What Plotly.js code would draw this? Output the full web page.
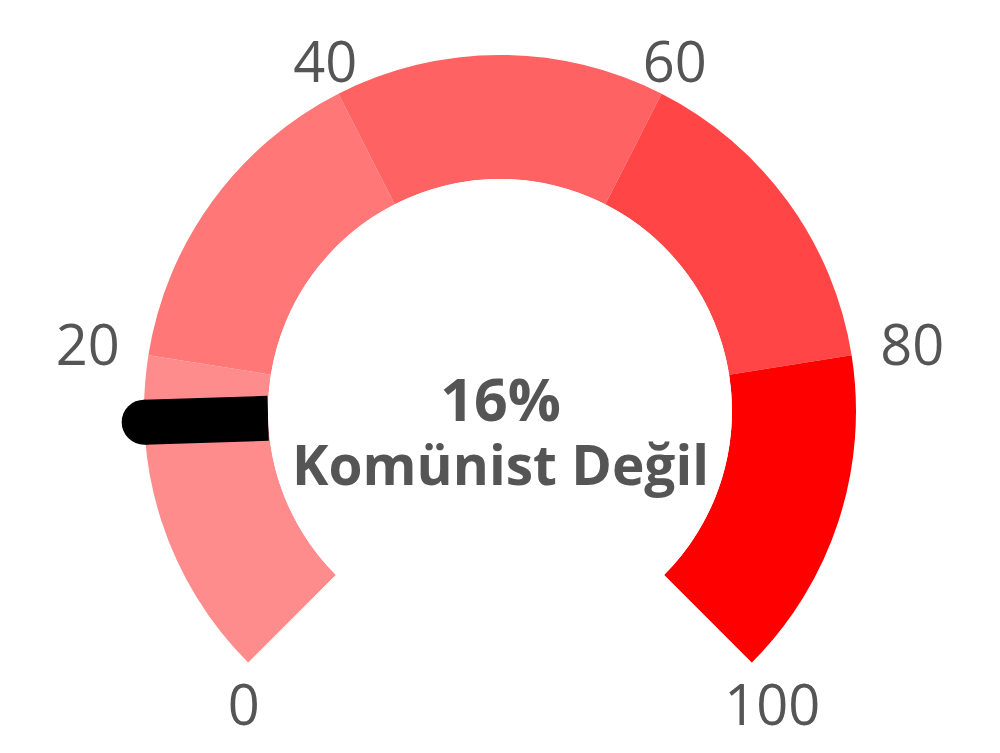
<!DOCTYPE html>
<html>
<head>
<meta charset="utf-8">
<script src="https://cdn.plot.ly/plotly-3.0.1.min.js"></script>
<style>
  html, body { margin: 0; padding: 0; background: #fff; }
  #chart { width: 1000px; height: 753px; }
</style>
</head>
<body>
<div id="chart"></div>
<script>
// gauge bands
const bandStarts = [0, 20, 40, 60, 80];
const bandEnds = [20, 40, 60, 80, 100];
const bandColors = ['#ff8c8c', '#ff7777', '#ff6262', '#ff4545', '#ff0000'];

// scale labels
const tickValues = [0, 20, 40, 60, 80, 100];
const tickLabels = ['0', '20', '40', '60', '80', '100'];

// reading
const needleValue = 16;
const valueText = '16%';
const labelText = 'Komünist Değil';

const SWEEP = 270;   // degrees from 0 to 100
const MAX = 100;
const toDeg = v => v * SWEEP / MAX;

// radial geometry: r=0 is the hole edge, r=1 the polar edge
const BAND_OUTER = 0.7607;
const LABEL_R = 0.939;

const GREY = '#555555';
const FONT = 'Open Sans, sans-serif';

const bands = {
  type: 'barpolar',
  theta: bandStarts.map((s, i) => toDeg((s + bandEnds[i]) / 2)),
  width: bandStarts.map((s, i) => toDeg(bandEnds[i] - s)),
  r: bandStarts.map(() => BAND_OUTER),
  marker: {color: bandColors, line: {width: 0}},
  hoverinfo: 'skip'
};

const needle = {
  type: 'scatterpolar',
  mode: 'lines',
  r: [0, BAND_OUTER],
  theta: [toDeg(needleValue), toDeg(needleValue)],
  line: {color: '#000', width: 45},
  cliponaxis: false,
  hoverinfo: 'skip'
};

const needleTip = {
  type: 'scatterpolar',
  mode: 'markers',
  r: [BAND_OUTER],
  theta: [toDeg(needleValue)],
  marker: {color: '#000', size: 45, line: {width: 0}},
  cliponaxis: false,
  hoverinfo: 'skip'
};

const scale = {
  type: 'scatterpolar',
  mode: 'text',
  r: tickValues.map(() => LABEL_R),
  theta: tickValues.map(toDeg),
  text: tickLabels,
  textposition: ['bottom right', 'middle left', 'middle center', 'middle center', 'middle right', 'bottom center'],
  textfont: {family: FONT, size: 56, color: GREY},
  cliponaxis: false,
  hoverinfo: 'skip'
};

const layout = {
  width: 1000,
  height: 753,
  margin: {l: 0, r: 0, t: 0, b: 0},
  paper_bgcolor: '#fff',
  showlegend: false,
  polar: {
    domain: {x: [0.105, 0.895], y: [0.0833, 0.9788]},
    sector: [-45, 225],
    hole: 0.5873,
    bgcolor: 'rgba(0,0,0,0)',
    radialaxis: {range: [0, 1], visible: false},
    angularaxis: {rotation: 225, direction: 'clockwise', visible: false}
  },
  annotations: [
    {
      xref: 'paper', yref: 'paper', x: 0.5, y: 0.429,
      xanchor: 'center', yanchor: 'middle', showarrow: false,
      text: '<span style="font-size:59px">' + valueText + '</span><br>' +
            '<span style="font-size:55px">' + labelText + '</span>',
      font: {family: FONT, size: 49, color: GREY, weight: 700}
    }
  ]
};

Plotly.newPlot('chart', [bands, needle, needleTip, scale], layout, {displayModeBar: false, staticPlot: true});
</script>
</body>
</html>
